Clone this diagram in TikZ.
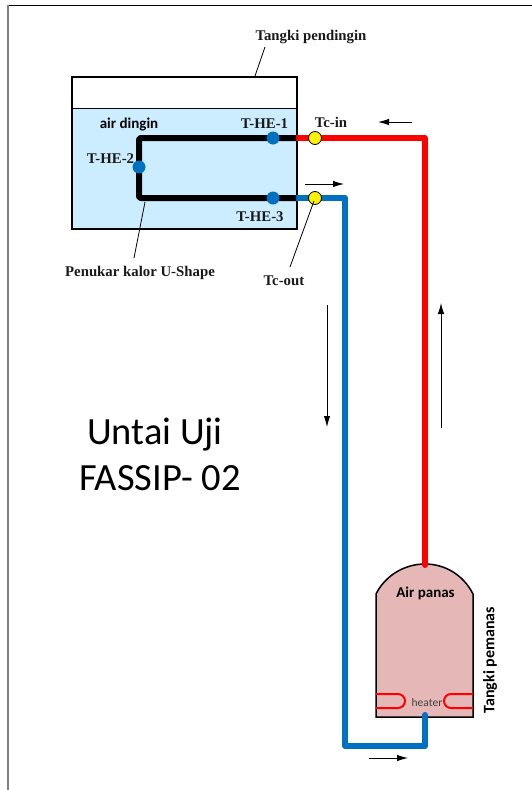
\documentclass[tikz,border=0pt]{standalone}
\usepackage{fontspec}
\setmainfont{Liberation Serif}
\newfontfamily\calfont{Carlito}
\usetikzlibrary{arrows.meta}
\definecolor{pipeblue}{RGB}{0,112,192}
\definecolor{waterblue}{RGB}{204,236,255}
\definecolor{hotpink}{RGB}{229,184,183}
\tikzset{
  pipe/.style={line width=6pt,line join=round},
  bluepipe/.style={pipe,draw=pipeblue,line cap=round},
  redpipe/.style={pipe,draw=red,line cap=round},
  sensorb/.style={circle,fill=pipeblue,minimum size=13pt,inner sep=0pt},
  sensory/.style={circle,fill=yellow,draw=black,line width=0.8pt,minimum size=13pt,inner sep=0pt},
  lbl/.style={font=\bfseries\fontsize{14.8}{16}\selectfont,text=black!90,inner sep=0pt},
  leader/.style={draw=black,line width=0.8pt},
  flow/.style={draw=black,line width=0.9pt,-{Latex[length=11pt,width=6.5pt]}},
  coil/.style={draw=red,line width=2pt,rounded corners=7pt},
  tankline/.style={draw=black,line width=1.8pt}
}
\begin{document}
\begin{tikzpicture}[x=1pt,y=-1pt]
\useasboundingbox (0,0) rectangle (532,790);
% page frame
\draw[black,line width=0.9pt] (8,5) -- (532,5);
\draw[gray,line width=1.5pt] (8,5) -- (8,790);
% cold tank
\fill[waterblue] (72,108) rectangle (297,229);
\draw[draw=black,line width=0.8pt] (72,108) -- (297,108);
\node[tankline,fill=none,minimum width=225pt,minimum height=152pt,inner sep=0pt,outer sep=0pt] (coldtank) at (184.5,153) {};
% hot tank
\path[fill=hotpink,draw=black,line width=1.5pt]
  (376,717) -- (376,594) .. controls (385.2,575.6) and (404.4,564) .. (425,564)
  .. controls (445.6,564) and (463.8,575.6) .. (473,594) -- (473,717) -- cycle;
\coordinate (hottop) at (425,565);
\coordinate (hotbottom) at (425,715);
% heater coils
\draw[coil] (376,694) -- (405,694) -- (405,708) -- (376,708);
\draw[coil] (473,694) -- (444,694) -- (444,708) -- (473,708);
% pipe coordinates
\coordinate (ci) at (296,138);
\coordinate (co) at (296,198);
\coordinate (r1) at (425,138);
\coordinate (b1) at (345,198);
\coordinate (b2) at (345,746);
\coordinate (b3) at (425,746);
% pipes
\draw[redpipe] (ci) -- (r1) -- (hottop);
\draw[bluepipe] (co) -- (b1) -- (b2) -- (b3) -- (hotbottom);
\draw[pipe,draw=black,rounded corners=2pt] (ci) -- (139,138) -- (139,198) -- (co);
% sensors
\node[sensorb] (he1) at (273,138) {};
\node[sensorb] (he2) at (139,167) {};
\node[sensorb] (he3) at (273,198) {};
\node[sensory] (tcin) at (315,138) {};
\node[sensory] (tcout) at (315,198) {};
% labels
\node[lbl] (ltank) at (311,36.5) {Tangki pendingin};
\node[lbl] (lhe1) at (264.5,123.5) {T-HE-1};
\node[lbl] (lhe2) at (110.5,158.5) {T-HE-2};
\node[lbl] (lhe3) at (260,216.5) {T-HE-3};
\node[lbl] (ltcin) at (331,122) {Tc-in};
\node[lbl] (ltcout) at (284,281) {Tc-out};
\node[lbl] (lu) at (140,272.5) {Penukar kalor U-Shape};
\node[font=\calfont\bfseries\fontsize{15}{17}\selectfont,inner sep=0pt] (lwater) at (129,124.5) {air dingin};
\node[font=\calfont\bfseries\fontsize{15}{17}\selectfont,inner sep=0pt] (lhot) at (425.5,593) {Air panas};
\node[font=\calfont\fontsize{11.5}{13}\selectfont,text=black!75,inner sep=0pt] (lheater) at (427,702.5) {heater};
\node[font=\calfont\bfseries\fontsize{16}{18}\selectfont,rotate=90,inner sep=0pt] (lhottank) at (490,660) {Tangki pemanas};
\node[font=\calfont\fontsize{38.5}{46}\selectfont,align=center,inner sep=0pt] (ltitle) at (160,454) {Untai Uji\hspace*{10pt}\\FASSIP- 02};
% leader lines
\coordinate (tanktop) at (255,76);
\coordinate (a) at (265,47);
\draw[leader] (a) -- (tanktop);
\coordinate (u1) at (145,202);
\coordinate (u2) at (134,258);
\draw[leader] (u1) -- (u2);
\coordinate (t2) at (290,267);
\draw[leader] (tcout.center) ++(-1,3) -- (t2);
% flow arrows
\coordinate (f1a) at (412,122); \coordinate (f1b) at (378,122);
\draw[flow] (f1a) -- (f1b);
\coordinate (f2a) at (305,184); \coordinate (f2b) at (344,184);
\draw[flow] (f2a) -- (f2b);
\coordinate (f3a) at (327,305); \coordinate (f3b) at (327,427);
\draw[flow] (f3a) -- (f3b);
\coordinate (f4a) at (441,428); \coordinate (f4b) at (441,303);
\draw[flow] (f4a) -- (f4b);
\coordinate (f5a) at (369,758); \coordinate (f5b) at (408,758);
\draw[flow] (f5a) -- (f5b);
\end{tikzpicture}
\end{document}
